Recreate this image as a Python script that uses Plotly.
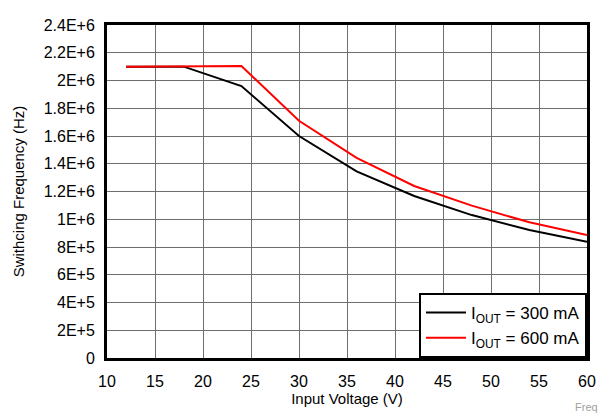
import plotly.graph_objects as go

vin_300 = [12, 18, 24, 30, 36, 42, 48, 54, 60]
freq_300 = [2.10e6, 2.10e6, 1.96e6, 1.60e6, 1.345e6, 1.168e6, 1.03e6, 0.922e6, 0.838e6]
vin_600 = [12, 18, 24, 30, 36, 42, 48, 54, 60]
freq_600 = [2.10e6, 2.10e6, 2.105e6, 1.71e6, 1.443e6, 1.24e6, 1.098e6, 0.978e6, 0.887e6]

x_ticks = [10, 15, 20, 25, 30, 35, 40, 45, 50, 55, 60]
y_ticks = [0, 2e5, 4e5, 6e5, 8e5, 1e6, 1.2e6, 1.4e6, 1.6e6, 1.8e6, 2e6, 2.2e6, 2.4e6]
y_labels = ["0", "2E+5", "4E+5", "6E+5", "8E+5", "1E+6", "1.2E+6", "1.4E+6",
            "1.6E+6", "1.8E+6", "2E+6", "2.2E+6", "2.4E+6"]

fig = go.Figure()
fig.add_trace(go.Scatter(x=vin_300, y=freq_300, mode="lines",
                         line=dict(color="black", width=2),
                         name="I<sub>OUT</sub> = 300 mA"))
fig.add_trace(go.Scatter(x=vin_600, y=freq_600, mode="lines",
                         line=dict(color="#ff0000", width=2),
                         name="I<sub>OUT</sub> = 600 mA"))

fam = "Liberation Sans, Arial, sans-serif"
fig.update_layout(
    width=616, height=415,
    margin=dict(l=95, r=37, t=9, b=65),
    paper_bgcolor="white", plot_bgcolor="white",
    font=dict(family=fam, size=15, color="black"),
    showlegend=True,
    legend=dict(x=1, y=0, xanchor="right", yanchor="bottom",
                bordercolor="black", borderwidth=2, bgcolor="white",
                font=dict(family=fam, size=17, color="black"),
                tracegroupgap=0, itemwidth=40),
    xaxis=dict(range=[10, 60], tickvals=x_ticks, ticks="", showgrid=True,
               gridcolor="#6e6e6e", gridwidth=1, showline=True, linecolor="black",
               linewidth=3, mirror=True, zeroline=False, ticklabelstandoff=7,
               tickfont=dict(size=16),
               title=dict(text="Input Voltage (V)", standoff=1, font=dict(size=15))),
    yaxis=dict(range=[0, 2.4e6], tickvals=y_ticks, ticktext=y_labels, ticks="",
               showgrid=True, gridcolor="#6e6e6e", gridwidth=1, showline=True,
               linecolor="black", linewidth=3, mirror=True, zeroline=False,
               ticklabelstandoff=6, tickfont=dict(size=16),
               title=dict(text="Swithcing Frequency (Hz)", standoff=16, font=dict(size=15))),
)
fig.add_annotation(text="Freq", xref="paper", yref="paper", x=1.027, y=-0.147,
                   xanchor="right", yanchor="middle", showarrow=False,
                   font=dict(size=11, color="#a0a0a0"))
fig.write_html("out.html")
